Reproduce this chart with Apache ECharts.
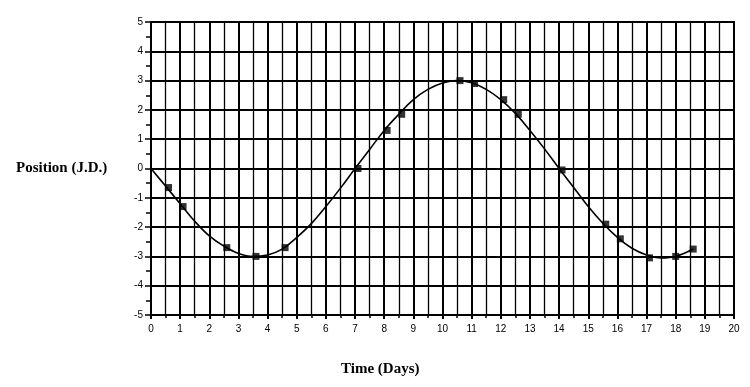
<!DOCTYPE html>
<html>
<head>
<meta charset="utf-8">
<script src="https://cdn.jsdelivr.net/npm/echarts@6/dist/echarts.min.js"></script>
<style>html,body{margin:0;padding:0;background:#fff}#c{width:750px;height:387px}</style>
</head>
<body>
<div id="c"></div>
<script>
// Measured data points (Time in days, Position in J.D.)
const markerTime = [0.6, 1.1, 2.6, 3.6, 4.6, 7.1, 8.1, 8.6, 10.6, 11.1, 12.1, 12.6, 14.1, 15.6, 16.1, 17.1, 18.0, 18.6];
const markerPos  = [-0.65, -1.3, -2.7, -3.0, -2.7, 0.0, 1.3, 1.85, 3.0, 2.9, 2.35, 1.85, -0.05, -1.9, -2.4, -3.05, -3.0, -2.75];

// Fitted curve
const curveTime = [0, 0.5, 1, 1.5, 2, 2.5, 3, 3.5, 4, 4.5, 5, 5.5, 6, 6.5, 7, 7.5, 8, 8.5, 9, 9.5, 10, 10.5, 11, 11.5, 12, 12.5, 13, 13.5, 14, 14.5, 15, 15.5, 16, 16.5, 17, 17.5, 18, 18.6];
const curvePos  = [0, -0.6, -1.2, -1.8, -2.3, -2.65, -2.9, -3.0, -2.95, -2.75, -2.35, -1.88, -1.3, -0.67, 0, 0.65, 1.3, 1.85, 2.35, 2.7, 2.92, 3.0, 2.93, 2.7, 2.35, 1.88, 1.3, 0.67, 0, -0.65, -1.3, -1.87, -2.35, -2.72, -2.95, -3.05, -3.0, -2.75];

const xTitle = 'Time (Days)';
const yTitle = 'Position (J.D.)';

const chart = echarts.init(document.getElementById('c'), null, {renderer: 'canvas'});
const ink = '#000';
const titleFont = {fontFamily: 'Liberation Serif', fontWeight: 'bold', fontSize: 15, fill: ink};
chart.setOption({
  animation: false,
  backgroundColor: '#fff',
  grid: {left: 151, right: 16, top: 22, bottom: 72, show: true, borderColor: ink, borderWidth: 2},
  graphic: [
    {type: 'text', left: 16, top: 161, style: Object.assign({text: yTitle}, titleFont)},
    {type: 'text', left: 341, top: 362, style: Object.assign({text: xTitle}, titleFont)}
  ],
  xAxis: {
    type: 'value', min: 0, max: 20, interval: 1,
    axisLine: {show: true, onZero: false, lineStyle: {color: ink, width: 2}},
    axisTick: {show: true, length: 4, lineStyle: {color: ink, width: 2}},
    minorTick: {show: true, splitNumber: 2, length: 3, lineStyle: {color: ink, width: 1.5}},
    axisLabel: {fontFamily: 'Liberation Sans', fontSize: 10, color: ink, margin: 9},
    splitLine: {show: true, lineStyle: {color: ink, width: 2}},
    minorSplitLine: {show: true, lineStyle: {color: ink, width: 1.3}}
  },
  yAxis: {
    type: 'value', min: -5, max: 5, interval: 1,
    axisLine: {show: true, onZero: false, lineStyle: {color: ink, width: 2}},
    axisTick: {show: true, length: 6, lineStyle: {color: ink, width: 1.5}},
    minorTick: {show: true, splitNumber: 2, length: 5, lineStyle: {color: ink, width: 1.5}},
    axisLabel: {fontFamily: 'Liberation Sans', fontSize: 10, color: ink, margin: 8},
    splitLine: {show: true, lineStyle: {color: ink, width: 2}}
  },
  series: [
    {
      type: 'line', name: 'fit', smooth: 0.4, showSymbol: false,
      data: curveTime.map((t, i) => [t, curvePos[i]]),
      lineStyle: {color: ink, width: 1.6}, z: 3
    },
    {
      type: 'scatter', name: 'data', symbol: 'rect', symbolSize: 7,
      data: markerTime.map((t, i) => [t, markerPos[i]]),
      itemStyle: {color: ink}, z: 4
    }
  ]
});
</script>
</body>
</html>
